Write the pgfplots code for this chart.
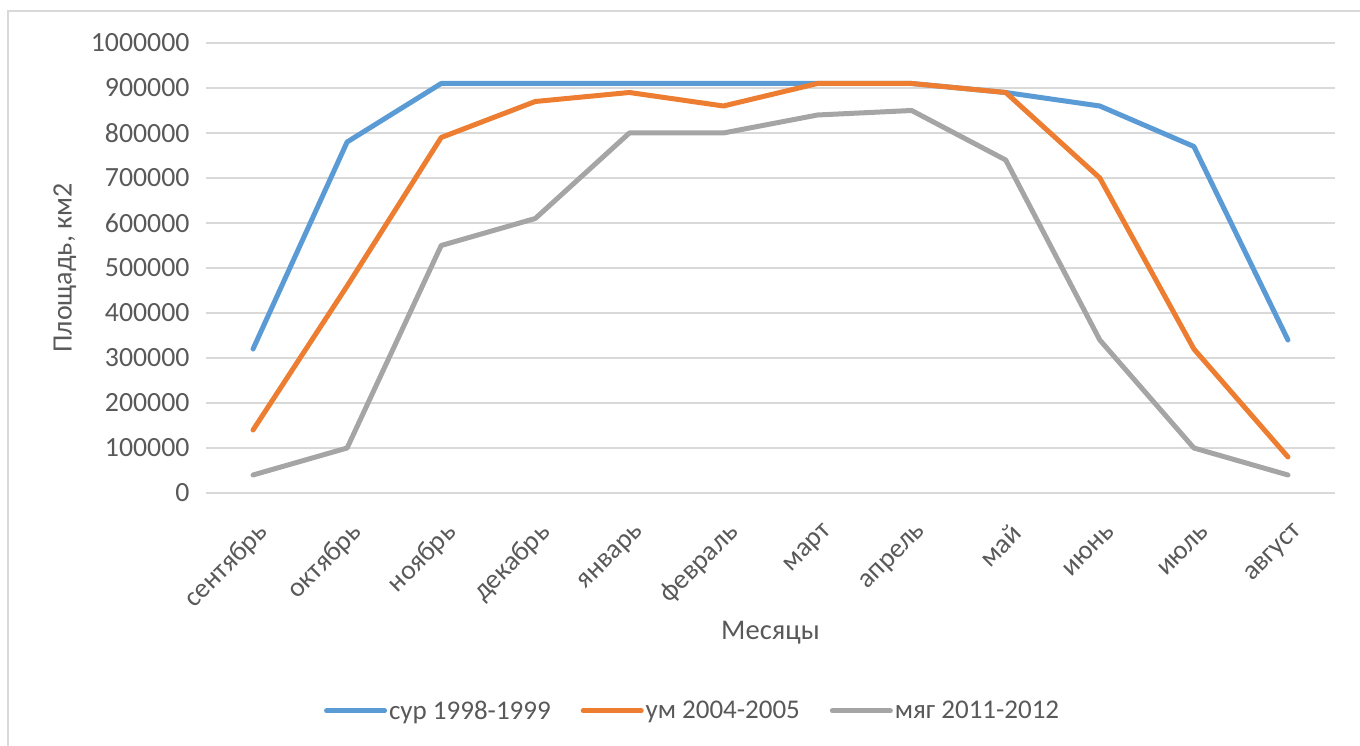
\documentclass[border=0pt]{standalone}
\usepackage{fontspec}
\setmainfont{Carlito}
\usepackage{pgfplots}
\pgfplotsset{compat=1.18}
\definecolor{cblue}{HTML}{5B9BD5}
\definecolor{corange}{HTML}{ED7D31}
\definecolor{cgray}{HTML}{A5A5A5}
\definecolor{cgrid}{HTML}{D9D9D9}
\definecolor{ctext}{HTML}{595959}
\begin{document}
\begin{tikzpicture}
\useasboundingbox (0,0) rectangle (1360pt,746pt);
\draw[cgrid, line width=1.5pt] (8pt,0pt) -- (8pt,735pt) -- (1360pt,735pt);
\begin{axis}[
  at={(206pt,253pt)}, anchor=south west,
  scale only axis, width=1129pt, height=450pt,
  xmin=-0.5, xmax=11.5, ymin=0, ymax=1000000,
  xtick={0,...,11},
  xticklabels={сентябрь,октябрь,ноябрь,декабрь,январь,февраль,март,апрель,май,июнь,июль,август},
  ytick={0,100000,...,1000000},
  scaled y ticks=false,
  yticklabel style={/pgf/number format/fixed, /pgf/number format/1000 sep={}, /pgf/number format/assume math mode=true, font=\fontsize{27.8}{30}\selectfont, text=ctext, xshift=-13pt},
  xticklabel style={rotate=45, anchor=east, font=\fontsize{27.5}{30}\selectfont, text=ctext, xshift=-14pt, yshift=-33pt},
  major tick length=0pt,
  axis line style={draw=none},
  ymajorgrids, major grid style={cgrid, line width=1.5pt},
  ylabel={Площадь, км2},
  ylabel style={at={(axis description cs:-0.125,0.5)}, anchor=center, font=\fontsize{28}{30}\selectfont, text=ctext},
  xlabel={Месяцы},
  xlabel style={at={(axis description cs:0.5,-0.311)}, anchor=center, font=\fontsize{28.5}{30}\selectfont, text=ctext},
  legend columns=3,
  legend style={at={(axis description cs:0.431,-0.484)}, anchor=center, draw=none, font=\fontsize{27}{30}\selectfont, text=ctext,
    /tikz/every even column/.append style={column sep=28pt}},
  legend image code/.code={\draw[#1, line width=5pt, line cap=round] (0pt,0pt) -- (58pt,0pt);},
  every axis plot/.append style={line width=5pt, line join=round, line cap=round, mark=none},
]
\addplot[cblue] coordinates {(0,320000)(1,780000)(2,910000)(3,910000)(4,910000)(5,910000)(6,910000)(7,910000)(8,890000)(9,860000)(10,770000)(11,340000)};
\addplot[corange] coordinates {(0,140000)(1,460000)(2,790000)(3,870000)(4,890000)(5,860000)(6,910000)(7,910000)(8,890000)(9,700000)(10,320000)(11,80000)};
\addplot[cgray] coordinates {(0,40000)(1,100000)(2,550000)(3,610000)(4,800000)(5,800000)(6,840000)(7,850000)(8,740000)(9,340000)(10,100000)(11,40000)};
\legend{сур 1998-1999, ум 2004-2005, мяг 2011-2012}
\end{axis}
\end{tikzpicture}
\end{document}
